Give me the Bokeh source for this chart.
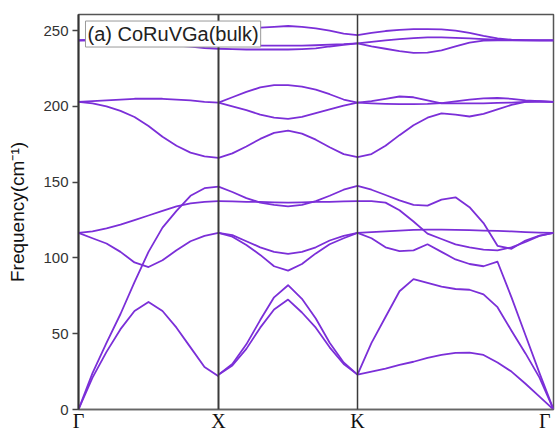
from bokeh.plotting import figure
from bokeh.models import Range1d, FixedTicker, Span, Label
from bokeh.embed import file_html
from bokeh.resources import INLINE

# High-symmetry points along the path
HS_POS = [0.0, 1.0, 1.993, 3.393]
HS_LABELS = ["Γ", "X", "K", "Γ\u00a0"]
Y_TICKS = [0, 50, 100, 150, 200, 250]

# ---- Γ - X segment ----
GX_K = [0.0, 0.1, 0.2, 0.3, 0.4, 0.5, 0.6, 0.7, 0.8, 0.9, 1.0]
gx_ta = [0, 21, 38, 53, 65, 71, 65, 54, 41, 28, 22]
gx_la = [0, 24, 44, 63, 84, 104, 120, 131, 141, 146, 147]
gx_to_up = [116.5, 117.5, 119.5, 122, 125, 128, 131, 134, 136, 137, 137.5]
gx_to_dn = [116.5, 113, 109.5, 104, 97, 94, 98.5, 105, 111, 114.5, 116.5]
gx_o2_flat = [203, 203.5, 204, 204.5, 205, 205, 205, 204.5, 204, 203, 202.5]
gx_o2_dn = [203, 202, 200, 197, 193, 187, 180, 174, 169.5, 167, 166]
gx_o3_top = [243.5, 244, 244.5, 245, 246, 247, 248, 249, 249.5, 250, 250]
gx_o3_mid = [243.5, 243.5, 243.5, 243, 243, 242.5, 242.5, 242, 241.5, 241, 241]
gx_o3_low = [243.5, 243.5, 243, 242.5, 242, 241.5, 241, 240, 239.5, 238.5, 238]

# ---- X - K segment ----
XK_K = [1.0, 1.099, 1.199, 1.298, 1.397, 1.497, 1.596, 1.695, 1.794, 1.894, 1.993]
xk_ac_hi = [23, 30, 43, 59, 74, 82, 73, 60, 44, 31, 23]
xk_ac_lo = [23, 29, 40, 54, 66, 72.5, 64, 54, 41, 30, 23]
xk_o1_a = [116.5, 115, 111, 107, 104, 102.7, 104, 107, 111.5, 114.5, 116.5]
xk_o1_b = [116.5, 114, 108.5, 102, 94.5, 91.6, 96, 103, 109, 113, 116.5]
xk_flat137 = [137.5, 137.3, 137, 137, 136.7, 136.5, 136.7, 137, 137, 137.3, 137.5]
xk_lens147 = [147, 143.5, 139.5, 136.5, 135, 134, 135, 137.5, 141, 145, 147.5]
xk_b166 = [166, 169, 173.5, 178.5, 182.5, 184, 182, 178, 173, 168.5, 166.5]
xk_o2_up = [202.5, 206, 209.5, 212.5, 214, 214, 213, 211, 208, 204.5, 202.5]
xk_o2_dn = [202.5, 200, 197.5, 194.5, 192.5, 191.7, 193, 195.5, 198, 200.5, 202.5]
xk_o3_top = [250, 251, 251.5, 252, 252.5, 253, 252.5, 251.5, 250, 248, 247]
xk_o3_mid = [241, 240.5, 240.3, 240, 240, 240, 240, 240.3, 240.7, 241, 241.5]
xk_o3_low = [238, 237.7, 237.5, 237.5, 237.5, 237.5, 237.8, 238.3, 239.5, 240.5, 241.5]

# ---- K - Γ segment ----
KG_K = [1.993, 2.093, 2.193, 2.293, 2.393, 2.493, 2.593, 2.693, 2.793, 2.893,
        2.993, 3.093, 3.193, 3.293, 3.393]
kg_ta1 = [23, 44, 61, 78, 86, 83.5, 81, 79.5, 79, 76, 67.5, 52, 37, 21, 0]
kg_ta2 = [23, 25, 27, 29.5, 31.5, 34, 36, 37.3, 37.5, 36, 31, 25, 17, 8.5, 0]
kg_la = [116.5, 113, 107, 104.5, 105, 109, 104, 99, 96, 94.5, 97.5, 74, 49, 24, 0]
kg_l1 = [147.5, 145, 141.5, 138, 135, 134.5, 138.5, 140, 133.5, 123, 108, 106, 111.5, 114.7, 116.5]
kg_l2 = [137.5, 137.5, 136.5, 131.5, 124, 116, 112.5, 109, 107, 105.5, 105, 107, 110.5, 114.5, 116.5]
kg_flat = [116.5, 117, 117.5, 118, 118.5, 118.7, 118.7, 118.5, 118.3, 118, 117.8, 117.5, 117, 116.7, 116.5]
kg_b166 = [166.5, 168.5, 174, 181, 187.5, 192.5, 195.3, 194.5, 193.3, 195, 198, 201, 203, 203.5, 203]
kg_o2_a = [202.5, 203.5, 205, 206.5, 206, 204, 202, 202, 202, 202, 202.3, 202.5, 203, 203, 203]
kg_o2_b = [202.5, 202, 201.7, 201.5, 201.5, 201.7, 202.2, 203.3, 204.5, 205.2, 205.5, 205, 204, 203.5, 203]
kg_o3_top = [247, 248.5, 249.7, 250.5, 251, 251, 250.8, 250, 248.5, 246.5, 244.8, 244, 243.7, 243.5, 243.5]
kg_o3_mid = [241.5, 242.5, 243.5, 244.3, 245, 245.5, 245.5, 245.2, 244.8, 244.3, 244, 243.7, 243.5, 243.5, 243.5]
kg_o3_low = [241.5, 239.5, 238, 236.5, 235.3, 235.5, 237, 239.5, 242, 243.3, 243.5, 243.5, 243.5, 243.5, 243.5]

SEGMENTS = [
    (GX_K, [gx_ta, gx_la, gx_to_up, gx_to_dn, gx_o2_flat, gx_o2_dn,
            gx_o3_top, gx_o3_mid, gx_o3_low]),
    (XK_K, [xk_ac_hi, xk_ac_lo, xk_o1_a, xk_o1_b, xk_flat137, xk_lens147,
            xk_b166, xk_o2_up, xk_o2_dn, xk_o3_top, xk_o3_mid, xk_o3_low]),
    (KG_K, [kg_ta1, kg_ta2, kg_la, kg_l1, kg_l2, kg_flat, kg_b166,
            kg_o2_a, kg_o2_b, kg_o3_top, kg_o3_mid, kg_o3_low]),
]

BAND_COLOR = "#7b2fd8"

p = figure(width=555, height=434, output_backend="svg", toolbar_location=None,
           x_range=Range1d(HS_POS[0], HS_POS[-1]), y_range=Range1d(0, 260.6),
           min_border_left=78, min_border_right=2, min_border_top=14,
           min_border_bottom=23)
p.background_fill_color = "white"
p.border_fill_color = "white"
p.outline_line_color = "#555555"
p.outline_line_width = 1.5
p.grid.visible = False

for ks, bands in SEGMENTS:
    for b in bands:
        p.line(ks, b, line_color=BAND_COLOR, line_width=1.8,
               line_join="round")

for i, pos in enumerate(HS_POS[1:-1]):
    p.add_layout(Span(location=pos, dimension="height", line_color="#3a3a3a",
                      line_width=2.0 if i == 0 else 1.5))

# x axis
p.xaxis.ticker = FixedTicker(ticks=HS_POS)
p.xaxis.major_label_overrides = {pos: lab for pos, lab in zip(HS_POS, HS_LABELS)}
p.xaxis.major_tick_line_color = None
p.xaxis.minor_tick_line_color = None
p.xaxis.major_tick_out = 0
p.xaxis.major_label_standoff = 0
p.xaxis.major_label_text_font = "Liberation Serif"
p.xaxis.major_label_text_font_size = "20px"
p.xaxis.major_label_text_color = "#111111"
p.xaxis.axis_line_color = "#666666"
p.xaxis.axis_line_width = 1.5

# y axis
p.yaxis.ticker = FixedTicker(ticks=Y_TICKS)
p.yaxis.minor_tick_line_color = None
p.yaxis.major_tick_out = 6
p.yaxis.major_tick_in = 0
p.yaxis.major_tick_line_color = "#444444"
p.yaxis.major_tick_line_width = 1.5
p.yaxis.major_label_text_font = "Liberation Sans"
p.yaxis.major_label_text_font_size = "15px"
p.yaxis.major_label_text_color = "#333333"
p.yaxis.major_label_standoff = 4
p.yaxis.axis_line_color = "#333333"
p.yaxis.axis_line_width = 2
p.yaxis.axis_label = "Frequency(cm\u207b\u00b9)"
p.yaxis.axis_label_text_font = "Liberation Sans"
p.yaxis.axis_label_text_font_style = "normal"
p.yaxis.axis_label_text_font_size = "19px"
p.yaxis.axis_label_text_color = "#111111"
p.yaxis.axis_label_standoff = 12

legend = Label(x=0.05, y=256.3, text="(a) CoRuVGa(bulk)",
               text_font="Liberation Sans", text_font_size="20px",
               text_color="#222222", text_baseline="top", text_align="left",
               background_fill_color="white", background_fill_alpha=1.0,
               border_line_color="#999999", border_line_width=1, padding=2)
p.add_layout(legend)

open("out.html", "w").write(file_html(p, INLINE))
